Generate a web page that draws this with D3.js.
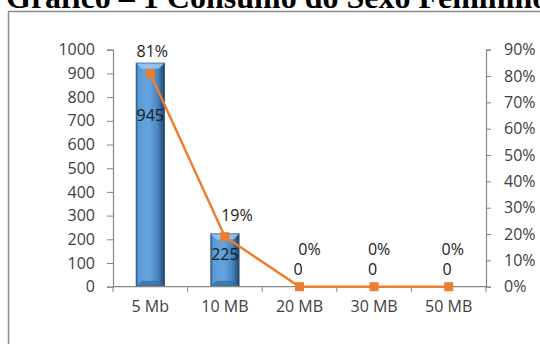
<!DOCTYPE html>
<html>
<head>
<meta charset="utf-8">
<script src="https://cdn.jsdelivr.net/npm/d3@7"></script>
<style>
  body { margin: 0; background: #fff; }
  svg { display: block; }
</style>
</head>
<body>
<div id="chart"></div>
<script>
// chart data
var categories = ["5 Mb", "10 MB", "20 MB", "30 MB", "50 MB"];
var counts = [945, 225, 0, 0, 0];
var shares = [0.81, 0.19, 0, 0, 0];
var leftTicks = [0, 100, 200, 300, 400, 500, 600, 700, 800, 900, 1000];
var rightTicks = [0, 0.1, 0.2, 0.3, 0.4, 0.5, 0.6, 0.7, 0.8, 0.9];
var title = "Gráfico – 1 Consumo do Sexo Feminino";

var width = 540, height = 344;
var font = "'Open Sans', sans-serif";
var textColor = "#404040";
var axisColor = "#868686";

var svg = d3.select("#chart").append("svg")
  .attr("width", width)
  .attr("height", height);

// title (cut off at the top)
svg.append("text")
  .attr("x", 6)
  .attr("y", 8)
  .attr("font-family", "'Liberation Serif', serif")
  .attr("font-weight", "bold")
  .attr("font-size", 32)
  .attr("fill", "#000")
  .text(title);

// chart frame
svg.append("path")
  .attr("d", "M8.5," + (height + 5) + "V11.5H" + (width + 5))
  .attr("fill", "none")
  .attr("stroke", "#8c8c8c")
  .attr("stroke-width", 1.5);

// scales
var x = d3.scaleBand().domain(categories).range([113, 486]);
var y = d3.scaleLinear().domain([0, 1000]).range([286.7, 49.7]);
var yR = d3.scaleLinear().domain([0, 0.9]).range([286.7, 49.7]);

// gradient for the bevelled bars
var defs = svg.append("defs");
var grad = defs.append("linearGradient").attr("id", "barGrad")
  .attr("x1", "0").attr("x2", "1").attr("y1", "0").attr("y2", "0");
[[0, "#2f5f8f"], [0.1, "#5b9bd5"], [0.45, "#64a5e0"], [0.75, "#4b86be"], [0.9, "#2e5f8e"], [1, "#1c3c5e"]]
  .forEach(function(s) {
    grad.append("stop").attr("offset", s[0]).attr("stop-color", s[1]);
  });

var barW = 29, bev = 6;
var bars = svg.append("g");
categories.forEach(function(c, i) {
  if (counts[i] <= 0) return;
  var x0 = x(c) + x.bandwidth() / 2 - barW / 2;
  var y0 = y(counts[i]);
  var y1 = y(0);
  bars.append("rect")
    .attr("x", x0).attr("y", y0)
    .attr("width", barW).attr("height", y1 - y0)
    .attr("fill", "url(#barGrad)");
  // top bevel
  bars.append("path")
    .attr("d", "M" + x0 + "," + y0 + "H" + (x0 + barW) + "L" + (x0 + barW - bev) + "," + (y0 + bev) +
      "H" + (x0 + bev) + "Z")
    .attr("fill", "#9cc8f0").attr("opacity", 0.85);
  // bottom bevel
  bars.append("path")
    .attr("d", "M" + x0 + "," + y1 + "H" + (x0 + barW) + "L" + (x0 + barW - bev) + "," + (y1 - bev) +
      "H" + (x0 + bev) + "Z")
    .attr("fill", "#3a6f9f").attr("opacity", 0.8);
  // outline
  bars.append("rect")
    .attr("x", x0 + 0.5).attr("y", y0 + 0.5)
    .attr("width", barW - 1).attr("height", y1 - y0 - 1)
    .attr("fill", "none").attr("stroke", "#2a5580").attr("stroke-opacity", 0.5);
});

// axes
var leftAxis = svg.append("g")
  .attr("transform", "translate(113,0)")
  .call(d3.axisLeft(y).tickValues(leftTicks).tickSize(6).tickPadding(12)
    .tickFormat(d3.format("d")));
var rightAxis = svg.append("g")
  .attr("transform", "translate(486,0)")
  .call(d3.axisRight(yR).tickValues(rightTicks).tickSize(5).tickPadding(13)
    .tickFormat(d3.format(".0%")));
var bottomAxis = svg.append("g")
  .attr("transform", "translate(0,286.7)")
  .call(d3.axisBottom(x).tickSize(0).tickPadding(14));

// category boundary ticks on the x axis
svg.append("g").selectAll("line")
  .data(categories.map(function(c) { return x(c); }).concat([x.range()[1]]))
  .enter().append("line")
  .attr("x1", function(d) { return d; }).attr("x2", function(d) { return d; })
  .attr("y1", 286.7).attr("y2", 292)
  .attr("stroke", axisColor);

[leftAxis, rightAxis, bottomAxis].forEach(function(g) {
  g.selectAll("path.domain").attr("stroke", axisColor).attr("stroke-width", 1.2);
  g.selectAll(".tick line").attr("stroke", axisColor);
  g.selectAll("text")
    .attr("font-family", font)
    .attr("font-size", 16)
    .attr("fill", textColor);
});
bottomAxis.select("path.domain").attr("d", "M113,0H486");

// share line with square markers
var cx = function(i) { return x(categories[i]) + x.bandwidth() / 2; };
var line = d3.line()
  .x(function(d, i) { return cx(i); })
  .y(function(d) { return yR(d); });

svg.append("path")
  .datum(shares)
  .attr("d", line)
  .attr("fill", "none")
  .attr("stroke", "#ed7d31")
  .attr("stroke-width", 2.5);

svg.append("g").selectAll("rect")
  .data(shares)
  .enter().append("rect")
  .attr("x", function(d, i) { return cx(i) - 4.5; })
  .attr("y", function(d) { return yR(d) - 4.5; })
  .attr("width", 9).attr("height", 9)
  .attr("fill", "#ed7d31");

// data labels
var labelText = function(g) {
  return g.attr("font-family", font)
    .attr("font-size", 16)
    .attr("fill", "#1a1a1a")
    .attr("text-anchor", "middle");
};

// share labels sit above the markers, nudged right
var shareDx = [2, 12, 10, 5, 4];
svg.append("g").selectAll("text")
  .data(shares)
  .enter().append("text")
  .call(labelText)
  .attr("x", function(d, i) { return cx(i) + shareDx[i]; })
  .attr("y", function(d) { return yR(d) - (d > 0 ? 16 : 32); })
  .text(function(d) { return d3.format(".0%")(d); });

// count labels
svg.append("g").selectAll("text")
  .data(counts)
  .enter().append("text")
  .call(labelText)
  .attr("x", function(d, i) { return cx(i) - (d > 0 ? 0 : 1.5); })
  .attr("y", function(d) {
    if (d === 0) return y(0) - 12;
    return y(d) + Math.max(27, (y(0) - y(d)) * 0.26);
  })
  .text(function(d) { return d; });
</script>
</body>
</html>
